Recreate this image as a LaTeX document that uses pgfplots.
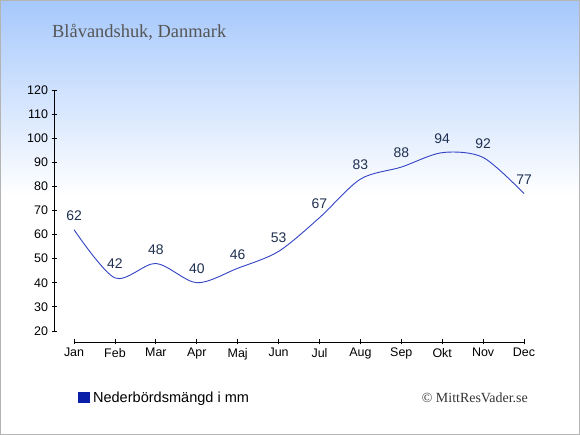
\documentclass[border=0pt]{standalone}
\usepackage{fontspec}
\setmainfont{Liberation Serif}
\setsansfont{Liberation Sans}
\usepackage{pgfplots}
\pgfplotsset{compat=1.18}
\definecolor{topblue}{HTML}{A6C8FC}
\definecolor{linecol}{HTML}{3242C4}
\definecolor{labcol}{HTML}{1F3050}
\definecolor{legblue}{HTML}{0A1FA8}
\definecolor{bordergray}{HTML}{B4B4B4}
\definecolor{titlegray}{HTML}{555555}
\begin{document}
\begin{tikzpicture}[x=1bp,y=1bp]
\fill[white] (0,0) rectangle (580,435);
\shade[top color=topblue, bottom color=white] (0,240) rectangle (580,435);
\begin{axis}[
  at={(54bp,93bp)}, anchor=south west,
  scale only axis, width=470bp, height=252bp,
  xmin=-0.49, xmax=11, ymin=15.4, ymax=120,
  axis x line=bottom, axis y line=left,
  axis line style={draw=none},
  xtick={0,...,11},
  xticklabels={Jan,Feb,Mar,Apr,Maj,Jun,Jul,Aug,Sep,Okt,Nov,Dec},
  ytick={20,30,...,120},
  tick align=center, major tick length=5bp,
  tick style={black, line width=0.8bp},
  ticklabel style={font=\sffamily\fontsize{12.5}{14}\selectfont, text=black},
  /pgf/number format/assume math mode=true,
  clip=false,
  legend style={at={(axis description cs:0.051,-0.222)}, anchor=west, draw=none, fill=none, inner sep=0pt,
    font=\sffamily\fontsize{14.6}{16}\selectfont, legend cell align=left},
  legend image code/.code={\fill[legblue] (0bp,-5bp) rectangle (11bp,5bp); \path (12bp,0bp);},
  nodes near coords,
  every node near coord/.append style={font=\sffamily\fontsize{14}{16}\selectfont, text=labcol, anchor=center, yshift=14bp},
]
\addplot[linecol, line width=0.9bp, smooth, tension=0.5, mark=none] coordinates {
(0,62) (1,42) (2,48) (3,40) (4,46) (5,53) (6,67) (7,83) (8,88) (9,94) (10,92) (11,77)};
\addlegendentry{Nederbördsmängd i mm}
\draw[black, line width=0.8bp] (axis cs:-0.49,20) -- (axis cs:-0.49,120);
\draw[black, line width=0.8bp] (axis cs:0,15.4) -- (axis cs:11,15.4);
\end{axis}
\node[anchor=base west, text=titlegray, font=\fontsize{18.5}{22}\selectfont, inner sep=0] at (52,397.3) {Blåvandshuk, Danmark};
\node[anchor=east, text=black!80, font=\fontsize{14}{16}\selectfont, inner sep=0] at (528,37) {© MittResVader.se};
\draw[bordergray, line width=1bp] (0.5,0.5) rectangle (579.5,434.5);
\pgfresetboundingbox
\useasboundingbox (0,0) rectangle (580,435);
\end{tikzpicture}
\end{document}
